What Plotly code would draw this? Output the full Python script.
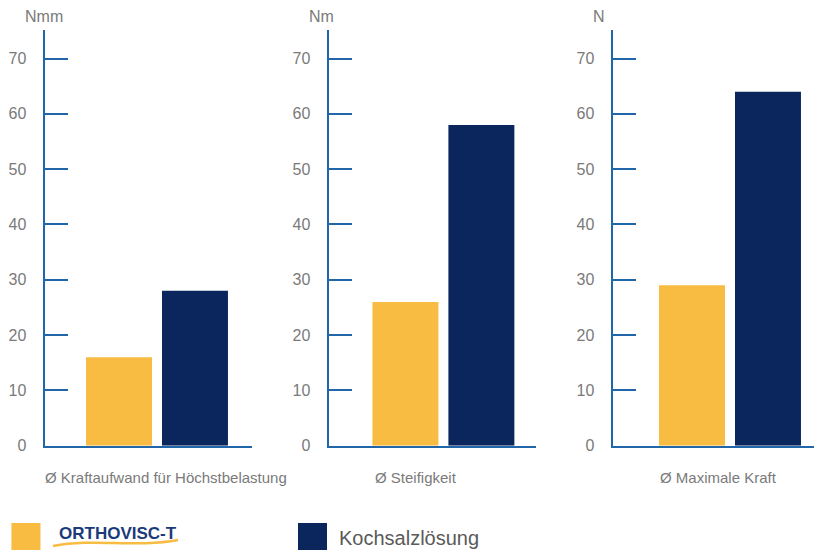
import plotly.graph_objects as go

# ---- data ----
categories = ["Ø Kraftaufwand für Höchstbelastung", "Ø Steifigkeit", "Ø Maximale Kraft"]
units = ["Nmm", "Nm", "N"]
orthovisc = [16, 26, 29]
kochsalz = [28, 58, 64]
ytick_vals = [0, 10, 20, 30, 40, 50, 60, 70]
series_names = ["ORTHOVISC-T", "Kochsalzlösung"]

# ---- style ----
W, H = 814, 550
ORANGE = "#F9BC42"
NAVY = "#0B265C"
AXIS = "#2166A8"
GRAY = "#7A7A7A"
FONT = "Liberation Sans, Arial, sans-serif"

axis_px = [45.3, 329.3, 613.3]      # left edge of each panel
panel_w = 206.7
group_c = [111.7, 114.1, 116.7]     # group centre offset from axis
y_bottom, y_top = 445.7, 30.0
ymax = 75.17

fig = go.Figure()
layout = dict(
    width=W, height=H, margin=dict(l=0, r=0, t=0, b=0, autoexpand=False),
    autosize=False, paper_bgcolor="white", plot_bgcolor="white",
    showlegend=False, bargap=0.265, bargroupgap=0.1316, barmode="group",
    font=dict(family=FONT, color=GRAY),
)

annotations = []
for i, cat in enumerate(categories):
    sfx = "" if i == 0 else str(i + 1)
    x0 = axis_px[i] / W
    x1 = min(axis_px[i] + panel_w, W) / W
    span = (x1 - x0) * W / panel_w
    cf = group_c[i] / panel_w
    fig.add_trace(go.Bar(x=[cat], y=[orthovisc[i]], name=series_names[0],
                         marker=dict(color=ORANGE, line=dict(width=0)),
                         xaxis="x" + sfx, yaxis="y" + sfx, hoverinfo="y"))
    fig.add_trace(go.Bar(x=[cat], y=[kochsalz[i]], name=series_names[1],
                         marker=dict(color=NAVY, line=dict(width=0)),
                         xaxis="x" + sfx, yaxis="y" + sfx, hoverinfo="y"))
    layout["xaxis" + sfx] = dict(
        domain=[x0, x1], anchor="y" + sfx, type="category",
        range=[-cf, -cf + span], showticklabels=False, ticks="",
        showgrid=False, zeroline=False, showline=True, linecolor=AXIS,
        linewidth=1.5, fixedrange=True, automargin=False)
    layout["yaxis" + sfx] = dict(
        domain=[(H - y_bottom) / H, (H - y_top) / H], anchor="x" + sfx,
        range=[0, ymax], tickvals=ytick_vals, ticks="inside", ticklen=23,
        tickwidth=1.5, tickcolor=AXIS, showgrid=False, zeroline=False,
        showline=True, linecolor=AXIS, linewidth=1.5,
        tickfont=dict(size=16, color=GRAY, family=FONT),
        ticklabelstandoff=14, fixedrange=True, automargin=False)
    # unit label
    annotations.append(dict(text=units[i], x=(axis_px[i] - 22) / W, y=(H - 17) / H,
                            xref="paper", yref="paper", xanchor="left", yanchor="middle",
                            showarrow=False, font=dict(size=16, color=GRAY)))

label_x = [43, 373, 658]
for i, cat in enumerate(categories):
    annotations.append(dict(text=cat, x=label_x[i] / W, y=(H - 477) / H,
                            xref="paper", yref="paper", xanchor="left", yanchor="middle",
                            showarrow=False, font=dict(size=15, color=GRAY)))

# legend
shapes = [
    dict(type="rect", xref="paper", yref="paper", x0=11.4 / W, x1=40.5 / W,
         y0=0, y1=(H - 523) / H, fillcolor=ORANGE, line=dict(width=0)),
    dict(type="rect", xref="paper", yref="paper", x0=298 / W, x1=327 / W,
         y0=0, y1=(H - 523) / H, fillcolor=NAVY, line=dict(width=0)),
    # swoosh under the logo text
    dict(type="path", xref="paper", yref="paper",
         path=("M {a},{b} C {c},{d} {e},{f} {g},{h}").format(
             a=53 / W, b=(H - 546) / H, c=95 / W, d=(H - 538) / H,
             e=135 / W, f=(H - 548) / H, g=178 / W, h=(H - 540) / H),
         line=dict(color=ORANGE, width=2.5)),
]
annotations.append(dict(text="<b>" + series_names[0] + "</b>", x=57 / W, y=(H - 533.5) / H,
                        xref="paper", yref="paper", xanchor="left", yanchor="middle",
                        showarrow=False, font=dict(size=17, color="#1B3A7A")))
annotations.append(dict(text=series_names[1], x=337 / W, y=(H - 538) / H,
                        xref="paper", yref="paper", xanchor="left", yanchor="middle",
                        showarrow=False, font=dict(size=20, color="#5A5A5A")))

layout["annotations"] = annotations
layout["shapes"] = shapes
fig.update_layout(**layout)
fig.write_html(
    "out.html",
    config={"displayModeBar": False, "responsive": False},
    post_script="document.body.style.margin='0';document.body.style.overflow='hidden';",
)
